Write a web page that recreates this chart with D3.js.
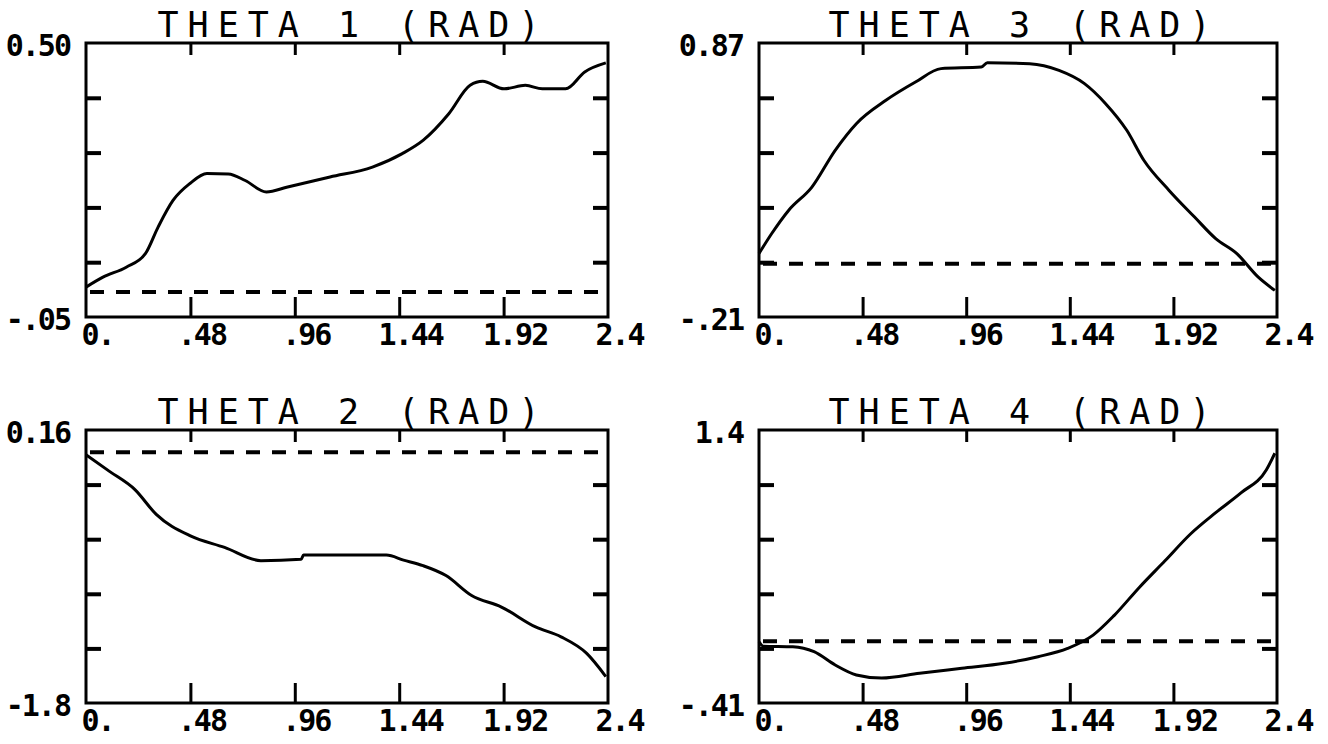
<!DOCTYPE html>
<html>
<head>
<meta charset="utf-8">
<script src="https://cdn.jsdelivr.net/npm/d3@7"></script>
<style>
  body { margin: 0; background: #fff; }
  svg { display: block; }
  .title { font-family: "DejaVu Sans Mono", monospace; font-size: 35px; letter-spacing: 9px; fill: #000; }
  .lbl { font-family: "DejaVu Sans Mono", monospace; font-weight: bold; font-size: 30px; letter-spacing: -2px; fill: #000; }
</style>
</head>
<body>
<svg id="chart" width="1328" height="744"></svg>
<script>
// time axis (s)
var xTicks = [0, 0.48, 0.96, 1.44, 1.92, 2.4]
var xTickLabels = ['0.', '.48', '.96', '1.44', '1.92', '2.4']

// joint angle histories [t, rad]
var theta1 = [[0,0.010],[0.078,0.030],[0.185,0.050],[0.273,0.077],[0.332,0.131],[0.40,0.184],[0.478,0.218],
  [0.556,0.238],[0.654,0.237],[0.732,0.224],[0.829,0.201],[0.927,0.211],[1.122,0.231],[1.317,0.251],
  [1.454,0.278],[1.551,0.305],[1.668,0.358],[1.766,0.415],[1.824,0.423],[1.922,0.408],[2.02,0.415],
  [2.098,0.408],[2.205,0.408],[2.293,0.442],[2.39,0.460]]
var theta2 = [[0,-0.018],[0.108,-0.137],[0.225,-0.268],[0.323,-0.446],[0.48,-0.600],[0.637,-0.683],
  [0.804,-0.778],[0.989,-0.768],[1.0,-0.738],[1.381,-0.738],[1.46,-0.774],[1.55,-0.814],[1.655,-0.885],
  [1.773,-1.028],[1.91,-1.111],[2.067,-1.254],[2.184,-1.325],[2.302,-1.444],[2.39,-1.61]]
var theta3 = [[0,0.040],[0.059,0.119],[0.137,0.210],[0.245,0.302],[0.353,0.447],[0.451,0.552],[0.588,0.644],
  [0.725,0.716],[0.843,0.769],[1.029,0.775],[1.058,0.792],[1.254,0.788],[1.39,0.762],[1.508,0.710],
  [1.606,0.631],[1.704,0.526],[1.783,0.408],[1.90,0.289],[2.018,0.184],[2.116,0.099],[2.214,0.040],
  [2.312,-0.052],[2.39,-0.105]]
var theta4 = [[0,-0.004],[0.02,-0.033],[0.157,-0.037],[0.255,-0.070],[0.353,-0.158],[0.451,-0.224],
  [0.568,-0.245],[0.744,-0.213],[0.94,-0.180],[1.136,-0.147],[1.293,-0.103],[1.43,-0.048],[1.548,0.040],
  [1.646,0.171],[1.763,0.358],[1.881,0.533],[1.998,0.709],[2.116,0.852],[2.233,0.983],[2.351,1.137],[2.39,1.246]]

var titles = ['THETA 1 (RAD)', 'THETA 2 (RAD)', 'THETA 3 (RAD)', 'THETA 4 (RAD)']
var yRanges = [[-0.05, 0.50], [-1.8, 0.16], [-0.21, 0.87], [-0.41, 1.4]]
var yLabels = [['-.05', '0.50'], ['-1.8', '0.16'], ['-.21', '0.87'], ['-.41', '1.4']]
var refValue = 0

var series = [theta1, theta2, theta3, theta4]
var boxes = [
  {x0: 86, x1: 608, y0: 43, y1: 317},
  {x0: 86, x1: 608, y0: 430, y1: 703},
  {x0: 759, x1: 1277, y0: 43, y1: 317},
  {x0: 759, x1: 1277, y0: 430, y1: 703}
]

var svg = d3.select('#chart')

var drawPanel = function (i) {
  var b = boxes[i]
  var x = d3.scaleLinear().domain([0, 2.4]).range([b.x0, b.x1])
  var y = d3.scaleLinear().domain(yRanges[i]).range([b.y1, b.y0])
  var yTicks = d3.range(6).map(k => yRanges[i][0] + k * (yRanges[i][1] - yRanges[i][0]) / 5)

  var g = svg.append('g')

  // inward tick marks on all four sides
  var inner = xTicks.slice(1, -1)
  var innerY = yTicks.slice(1, -1)
  var tk = function (axis, tr, w) {
    var a = g.append('g').attr('transform', tr).call(axis)
    a.select('.domain').remove()
    a.selectAll('line').attr('stroke', '#000').attr('stroke-width', w)
    a.selectAll('text').remove()
  }
  tk(d3.axisBottom(x).tickValues(inner).tickSize(-20), 'translate(0,' + b.y1 + ')', 3)
  tk(d3.axisTop(x).tickValues(inner).tickSize(-12), 'translate(0,' + b.y0 + ')', 3)
  tk(d3.axisLeft(y).tickValues(innerY).tickSize(-15), 'translate(' + b.x0 + ',0)', 4)
  tk(d3.axisRight(y).tickValues(innerY).tickSize(-15), 'translate(' + b.x1 + ',0)', 4)

  // frame
  g.append('rect')
   .attr('x', b.x0).attr('y', b.y0)
   .attr('width', b.x1 - b.x0).attr('height', b.y1 - b.y0)
   .attr('fill', 'none').attr('stroke', '#000').attr('stroke-width', 3)

  // x tick labels
  var xa = g.append('g').attr('transform', 'translate(0,' + (b.y1 + 2) + ')')
            .call(d3.axisBottom(x).tickValues(xTicks).tickSize(0).tickFormat((d, k) => xTickLabels[k]))
  xa.select('.domain').remove()
  xa.selectAll('text').attr('class', 'lbl').attr('font-size', null).attr('font-family', null)
    .attr('dx', 11).attr('dy', '0.78em')

  // y end labels
  var ya = g.append('g').attr('transform', 'translate(' + (b.x0 - 13) + ',0)')
            .call(d3.axisLeft(y).tickValues([yRanges[i][0], yRanges[i][1]]).tickSize(0)
                   .tickFormat((d, k) => yLabels[i][k]))
  ya.select('.domain').remove()
  ya.selectAll('text').attr('class', 'lbl').attr('font-size', null).attr('font-family', null)
    .attr('dy', '0.42em')

  // reference (dashed) line
  g.append('line')
   .attr('x1', b.x0 + 4).attr('x2', b.x1 - 2)
   .attr('y1', y(refValue)).attr('y2', y(refValue))
   .attr('stroke', '#000').attr('stroke-width', 4)
   .attr('stroke-dasharray', '14,12')

  // trajectory
  g.append('path')
   .datum(series[i])
   .attr('fill', 'none').attr('stroke', '#000').attr('stroke-width', 3)
   .attr('d', d3.line().x(d => x(d[0])).y(d => y(d[1])).curve(d3.curveMonotoneX))

  // title
  g.append('text')
   .attr('class', 'title')
   .attr('x', (b.x0 + b.x1) / 2 + 6).attr('y', b.y0 - 6)
   .attr('text-anchor', 'middle')
   .text(titles[i])
}

for (var i = 0; i < 4; i++) drawPanel(i)
</script>
</body>
</html>
